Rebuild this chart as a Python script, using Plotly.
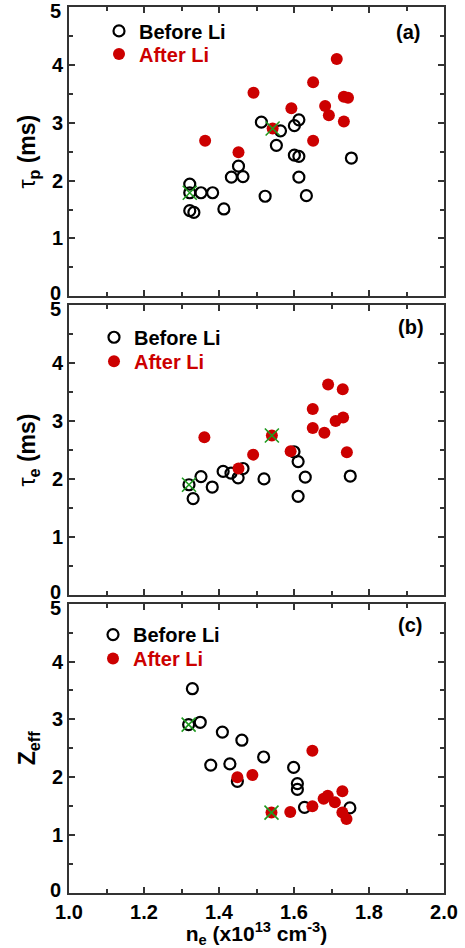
import plotly.graph_objects as go

# ---------------- data ----------------
# Panel (a): particle confinement time tau_p (ms)
a_before_x = [1.322, 1.322, 1.352, 1.383, 1.322, 1.333, 1.413, 1.433, 1.452, 1.464, 1.513,
              1.523, 1.553, 1.564, 1.601, 1.613, 1.601, 1.613, 1.613, 1.633, 1.753]
a_before_y = [1.94, 1.79, 1.79, 1.79, 1.48, 1.45, 1.51, 2.06, 2.25, 2.07, 3.01,
              1.73, 2.61, 2.86, 2.95, 3.05, 2.44, 2.42, 2.06, 1.74, 2.39]
a_after_x = [1.363, 1.452, 1.492, 1.543, 1.593, 1.651, 1.651, 1.683, 1.693, 1.714, 1.733, 1.744, 1.733]
a_after_y = [2.69, 2.49, 3.52, 2.90, 3.25, 3.70, 2.69, 3.29, 3.13, 4.10, 3.45, 3.43, 3.02]
a_mark_x = [1.322, 1.543]
a_mark_y = [1.79, 2.90]

# Panel (b): energy confinement time tau_e (ms)
b_before_x = [1.320, 1.331, 1.352, 1.382, 1.411, 1.432, 1.451, 1.464, 1.520, 1.600,
              1.611, 1.611, 1.630, 1.750]
b_before_y = [1.90, 1.66, 2.04, 1.86, 2.13, 2.10, 2.02, 2.18, 2.00, 2.47,
              2.30, 1.70, 2.03, 2.05]
b_after_x = [1.361, 1.452, 1.491, 1.541, 1.591, 1.650, 1.650, 1.681, 1.691, 1.711, 1.730, 1.731, 1.741]
b_after_y = [2.72, 2.18, 2.42, 2.75, 2.48, 3.21, 2.88, 2.80, 3.63, 3.00, 3.55, 3.06, 2.46]
b_mark_x = [1.320, 1.541]
b_mark_y = [1.90, 2.75]

# Panel (c): Z_eff
c_before_x = [1.329, 1.319, 1.350, 1.378, 1.409, 1.429, 1.449, 1.461, 1.519, 1.599,
              1.609, 1.609, 1.628, 1.749]
c_before_y = [3.53, 2.91, 2.95, 2.21, 2.78, 2.23, 1.93, 2.64, 2.35, 2.17,
              1.89, 1.79, 1.48, 1.47]
c_after_x = [1.449, 1.489, 1.540, 1.590, 1.649, 1.649, 1.679, 1.690, 1.709, 1.729, 1.729, 1.740]
c_after_y = [2.00, 2.04, 1.39, 1.40, 2.46, 1.50, 1.63, 1.68, 1.57, 1.76, 1.39, 1.28]
c_mark_x = [1.319, 1.540]
c_mark_y = [2.91, 1.39]

panel_labels = ["(a)", "(b)", "(c)"]
y_titles = ["τ<sub><b>p</b></sub><b> (ms)</b>", "τ<sub><b>e</b></sub><b> (ms)</b>", "<b>Z<sub>eff</sub></b>"]
x_title = "<b>n<sub>e</sub> (x10<sup>13</sup> cm<sup>-3</sup>)</b>"
x_ticks = [1.0, 1.2, 1.4, 1.6, 1.8, 2.0]
x_ticklabels = ["1.0", "1.2", "1.4", "1.6", "1.8", "2.0"]
y_ticks = [0, 1, 2, 3, 4, 5]
y_ticklabels = ["0", "1", "2", "3", "4", "5"]
# end labels (0 and 5) are drawn nudged inward so adjacent panels don't collide
y_end_ticks = [0, 5]

RED = "#cc0000"
GREEN = "#1f9a1f"
FONT = "Liberation Sans, Arial, sans-serif"
AXC = "#333333"

panels = [
    (a_before_x, a_before_y, a_after_x, a_after_y, a_mark_x, a_mark_y),
    (b_before_x, b_before_y, b_after_x, b_after_y, b_mark_x, b_mark_y),
    (c_before_x, c_before_y, c_after_x, c_after_y, c_mark_x, c_mark_y),
]

W, H = 465, 948
ML, MR, MT, MB = 69, 21, 5, 55
PW, PH = W - ML - MR, H - MT - MB

def px_x(p):
    return (p - ML) / PW

def px_y(p):
    return 1 - (p - MT) / PH

# panel pixel extents (top, bottom)
panel_px = [(5, 295), (304, 594), (603, 893)]
domains = [[px_y(b), px_y(t)] for t, b in panel_px]

# legend placement (pixel): text-left x, row centres y
leg_text_x = [139, 134, 133]
leg_rows = [(29, 52), (336, 360), (634, 658)]
label_pos = [(408, 30), (411, 326), (410, 624)]

fig = go.Figure()
for i, (bx, by, ax_, ay, mx, my) in enumerate(panels):
    k = "" if i == 0 else str(i + 1)
    lb = "legend" if i == 0 else f"legend{2 * i + 1}"
    la = f"legend{2 * i + 2}"
    fig.add_trace(go.Scatter(
        x=bx, y=by, mode="markers", name="<b>Before Li</b>",
        xaxis="x" + k, yaxis="y" + k, legend=lb,
        marker=dict(symbol="circle-open", size=11, color="black", line=dict(width=2.2, color="black")),
    ))
    fig.add_trace(go.Scatter(
        x=ax_, y=ay, mode="markers", name=f"<span style='color:{RED}'><b>After Li</b></span>",
        xaxis="x" + k, yaxis="y" + k, legend=la,
        marker=dict(symbol="circle", size=12, color=RED, line=dict(width=0)),
    ))
    fig.add_trace(go.Scatter(
        x=mx, y=my, mode="markers", showlegend=False,
        xaxis="x" + k, yaxis="y" + k,
        marker=dict(symbol="x-thin", size=14, color=GREEN, line=dict(width=1.6, color=GREEN)),
    ))

layout = dict(
    width=W, height=H,
    margin=dict(l=ML, r=MR, t=MT, b=MB),
    plot_bgcolor="white", paper_bgcolor="white",
    font=dict(family=FONT, color="black", size=18),
    annotations=[],
)

axis_common = dict(
    showgrid=False, zeroline=False, showline=True, linecolor=AXC, linewidth=2,
    mirror="ticks", ticks="inside", ticklen=6, tickwidth=1.5, tickcolor=AXC,
)
tickfont = dict(size=20, family=FONT, weight="bold", color="black")

for i in range(3):
    k = "" if i == 0 else str(i + 1)
    xa = dict(axis_common, range=[1.0, 2.0], tickvals=x_ticks, ticktext=x_ticklabels,
              anchor="y" + k, domain=[0, 1],
              minor=dict(dtick=0.1, ticks="inside", ticklen=4, tickwidth=1.5, tickcolor=AXC),
              tickfont=tickfont)
    if i < 2:
        xa["showticklabels"] = False
    else:
        xa["title"] = dict(text=x_title, font=dict(size=21, family=FONT), standoff=4)
    if i > 0:
        xa["matches"] = "x"
    ytext = [("" if v in y_end_ticks else t) for v, t in zip(y_ticks, y_ticklabels)]
    ya = dict(axis_common, range=[0, 5], tickvals=y_ticks, ticktext=ytext,
              anchor="x" + k, domain=domains[i],
              minor=dict(dtick=0.5, ticks="inside", ticklen=4, tickwidth=1.5, tickcolor=AXC),
              tickfont=tickfont,
              title=dict(text=y_titles[i], font=dict(size=23, family=FONT), standoff=10))
    layout["xaxis" + k] = xa
    layout["yaxis" + k] = ya

    # nudged end tick labels
    for v, t in zip(y_ticks, y_ticklabels):
        if v in y_end_ticks:
            layout["annotations"].append(dict(
                text=f"<b>{t}</b>", x=px_x(63), xref="paper", y=v, yref="y" + k,
                xanchor="right", yanchor="middle", showarrow=False,
                yshift=(3 if v == 0 else -4),
                font=dict(size=20, family=FONT, color="black"),
            ))

    lb = "legend" if i == 0 else f"legend{2 * i + 1}"
    la = f"legend{2 * i + 2}"
    for name, row in ((lb, leg_rows[i][0]), (la, leg_rows[i][1])):
        layout[name] = dict(
            x=px_x(leg_text_x[i] - 40), xanchor="left",
            y=px_y(row), yanchor="middle", yref="paper",
            bgcolor="rgba(0,0,0,0)", borderwidth=0,
            font=dict(size=20, family=FONT, color="black"),
            tracegroupgap=0, itemsizing="trace",
        )
    lx, ly = label_pos[i]
    layout["annotations"].append(dict(
        text=f"<b>{panel_labels[i]}</b>", x=px_x(lx), y=px_y(ly),
        xref="paper", yref="paper", showarrow=False, xanchor="center", yanchor="middle",
        font=dict(size=20, family=FONT, color="black"),
    ))

fig.update_layout(**layout)
fig.write_html("out.html")
